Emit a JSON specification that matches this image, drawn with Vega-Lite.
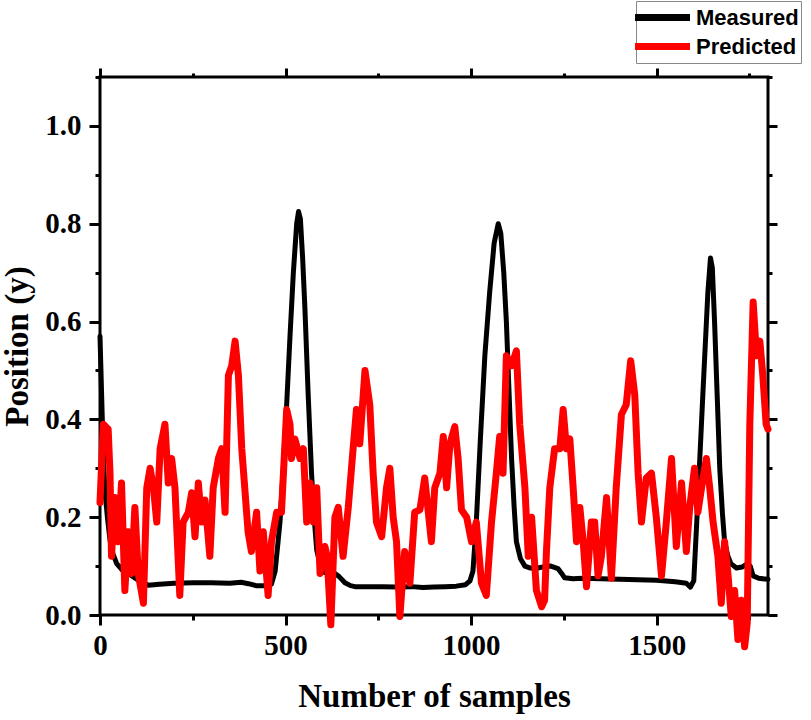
{
  "$schema": "https://vega.github.io/schema/vega-lite/v6.json",
  "description": "Measured vs predicted position over samples",
  "width": 668,
  "height": 538,
  "autosize": "none",
  "padding": {"left": 100, "top": 77, "right": 43, "bottom": 105},
  "background": "white",
  "config": {
    "view": {"stroke": "black", "strokeWidth": 3},
    "axis": {
      "domain": false,
      "grid": false,
      "tickColor": "black",
      "tickWidth": 3,
      "labelFont": "Liberation Serif",
      "labelFontWeight": "bold",
      "labelFontSize": 29,
      "labelColor": "black",
      "labelFlush": false,
      "labelOverlap": false,
      "titleFont": "Liberation Serif",
      "titleFontWeight": "bold",
      "titleFontSize": 33,
      "titleColor": "black"
    },
    "legend": {
      "orient": "none",
      "legendX": 536,
      "legendY": -76,
      "title": null,
      "symbolType": "M-2.5,0L2.5,0",
      "symbolSize": 484,
      "symbolStrokeWidth": 7,
      "symbolOffset": 10,
      "labelFont": "Liberation Sans",
      "labelFontWeight": "bold",
      "labelFontSize": 22,
      "labelColor": "black",
      "labelOffset": 19,
      "padding": 2,
      "rowPadding": 0,
      "strokeColor": "#888888",
      "fillColor": "white"
    }
  },
  "data": {
    "values": [
      {"sample": 0, "position": 0.57, "series": "Measured"},
      {"sample": 4, "position": 0.46, "series": "Measured"},
      {"sample": 8, "position": 0.35, "series": "Measured"},
      {"sample": 13, "position": 0.255, "series": "Measured"},
      {"sample": 20, "position": 0.2, "series": "Measured"},
      {"sample": 27, "position": 0.153, "series": "Measured"},
      {"sample": 35, "position": 0.125, "series": "Measured"},
      {"sample": 45, "position": 0.105, "series": "Measured"},
      {"sample": 60, "position": 0.092, "series": "Measured"},
      {"sample": 76, "position": 0.085, "series": "Measured"},
      {"sample": 90, "position": 0.078, "series": "Measured"},
      {"sample": 105, "position": 0.07, "series": "Measured"},
      {"sample": 120, "position": 0.064, "series": "Measured"},
      {"sample": 130, "position": 0.061, "series": "Measured"},
      {"sample": 160, "position": 0.063, "series": "Measured"},
      {"sample": 200, "position": 0.065, "series": "Measured"},
      {"sample": 250, "position": 0.066, "series": "Measured"},
      {"sample": 300, "position": 0.066, "series": "Measured"},
      {"sample": 350, "position": 0.065, "series": "Measured"},
      {"sample": 380, "position": 0.067, "series": "Measured"},
      {"sample": 400, "position": 0.064, "series": "Measured"},
      {"sample": 420, "position": 0.06, "series": "Measured"},
      {"sample": 445, "position": 0.06, "series": "Measured"},
      {"sample": 462, "position": 0.063, "series": "Measured"},
      {"sample": 472, "position": 0.09, "series": "Measured"},
      {"sample": 485, "position": 0.19, "series": "Measured"},
      {"sample": 494, "position": 0.3, "series": "Measured"},
      {"sample": 503, "position": 0.43, "series": "Measured"},
      {"sample": 512, "position": 0.57, "series": "Measured"},
      {"sample": 521, "position": 0.7, "series": "Measured"},
      {"sample": 530, "position": 0.8, "series": "Measured"},
      {"sample": 535, "position": 0.825, "series": "Measured"},
      {"sample": 540, "position": 0.81, "series": "Measured"},
      {"sample": 546, "position": 0.73, "series": "Measured"},
      {"sample": 552, "position": 0.63, "series": "Measured"},
      {"sample": 561, "position": 0.45, "series": "Measured"},
      {"sample": 570, "position": 0.29, "series": "Measured"},
      {"sample": 577, "position": 0.2, "series": "Measured"},
      {"sample": 584, "position": 0.133, "series": "Measured"},
      {"sample": 594, "position": 0.1, "series": "Measured"},
      {"sample": 606, "position": 0.087, "series": "Measured"},
      {"sample": 620, "position": 0.085, "series": "Measured"},
      {"sample": 633, "position": 0.085, "series": "Measured"},
      {"sample": 645, "position": 0.078, "series": "Measured"},
      {"sample": 660, "position": 0.066, "series": "Measured"},
      {"sample": 675, "position": 0.06, "series": "Measured"},
      {"sample": 687, "position": 0.058, "series": "Measured"},
      {"sample": 720, "position": 0.058, "series": "Measured"},
      {"sample": 760, "position": 0.058, "series": "Measured"},
      {"sample": 800, "position": 0.057, "series": "Measured"},
      {"sample": 840, "position": 0.058, "series": "Measured"},
      {"sample": 870, "position": 0.056, "series": "Measured"},
      {"sample": 900, "position": 0.057, "series": "Measured"},
      {"sample": 930, "position": 0.058, "series": "Measured"},
      {"sample": 960, "position": 0.059, "series": "Measured"},
      {"sample": 985, "position": 0.062, "series": "Measured"},
      {"sample": 997, "position": 0.07, "series": "Measured"},
      {"sample": 1005, "position": 0.09, "series": "Measured"},
      {"sample": 1014, "position": 0.19, "series": "Measured"},
      {"sample": 1025, "position": 0.36, "series": "Measured"},
      {"sample": 1037, "position": 0.53, "series": "Measured"},
      {"sample": 1050, "position": 0.66, "series": "Measured"},
      {"sample": 1062, "position": 0.76, "series": "Measured"},
      {"sample": 1073, "position": 0.8, "series": "Measured"},
      {"sample": 1080, "position": 0.78, "series": "Measured"},
      {"sample": 1088, "position": 0.7, "series": "Measured"},
      {"sample": 1095, "position": 0.6, "series": "Measured"},
      {"sample": 1102, "position": 0.46, "series": "Measured"},
      {"sample": 1109, "position": 0.32, "series": "Measured"},
      {"sample": 1116, "position": 0.22, "series": "Measured"},
      {"sample": 1122, "position": 0.15, "series": "Measured"},
      {"sample": 1133, "position": 0.115, "series": "Measured"},
      {"sample": 1145, "position": 0.1, "series": "Measured"},
      {"sample": 1160, "position": 0.096, "series": "Measured"},
      {"sample": 1180, "position": 0.096, "series": "Measured"},
      {"sample": 1198, "position": 0.099, "series": "Measured"},
      {"sample": 1215, "position": 0.1, "series": "Measured"},
      {"sample": 1234, "position": 0.095, "series": "Measured"},
      {"sample": 1244, "position": 0.085, "series": "Measured"},
      {"sample": 1252, "position": 0.076, "series": "Measured"},
      {"sample": 1275, "position": 0.074, "series": "Measured"},
      {"sample": 1300, "position": 0.075, "series": "Measured"},
      {"sample": 1350, "position": 0.074, "series": "Measured"},
      {"sample": 1400, "position": 0.073, "series": "Measured"},
      {"sample": 1450, "position": 0.072, "series": "Measured"},
      {"sample": 1500, "position": 0.071, "series": "Measured"},
      {"sample": 1550, "position": 0.068, "series": "Measured"},
      {"sample": 1580, "position": 0.065, "series": "Measured"},
      {"sample": 1591, "position": 0.057, "series": "Measured"},
      {"sample": 1600, "position": 0.07, "series": "Measured"},
      {"sample": 1608, "position": 0.19, "series": "Measured"},
      {"sample": 1615, "position": 0.3, "series": "Measured"},
      {"sample": 1625, "position": 0.46, "series": "Measured"},
      {"sample": 1638, "position": 0.66, "series": "Measured"},
      {"sample": 1645, "position": 0.73, "series": "Measured"},
      {"sample": 1650, "position": 0.71, "series": "Measured"},
      {"sample": 1656, "position": 0.6, "series": "Measured"},
      {"sample": 1663, "position": 0.45, "series": "Measured"},
      {"sample": 1670, "position": 0.3, "series": "Measured"},
      {"sample": 1677, "position": 0.21, "series": "Measured"},
      {"sample": 1683, "position": 0.15, "series": "Measured"},
      {"sample": 1692, "position": 0.12, "series": "Measured"},
      {"sample": 1700, "position": 0.105, "series": "Measured"},
      {"sample": 1715, "position": 0.096, "series": "Measured"},
      {"sample": 1730, "position": 0.098, "series": "Measured"},
      {"sample": 1745, "position": 0.105, "series": "Measured"},
      {"sample": 1752, "position": 0.1, "series": "Measured"},
      {"sample": 1760, "position": 0.08, "series": "Measured"},
      {"sample": 1775, "position": 0.075, "series": "Measured"},
      {"sample": 1800, "position": 0.073, "series": "Measured"},

      {"sample": 0, "position": 0.23, "series": "Predicted"},
      {"sample": 9, "position": 0.39, "series": "Predicted"},
      {"sample": 22, "position": 0.38, "series": "Predicted"},
      {"sample": 27, "position": 0.29, "series": "Predicted"},
      {"sample": 31, "position": 0.12, "series": "Predicted"},
      {"sample": 40, "position": 0.24, "series": "Predicted"},
      {"sample": 49, "position": 0.15, "series": "Predicted"},
      {"sample": 58, "position": 0.27, "series": "Predicted"},
      {"sample": 67, "position": 0.05, "series": "Predicted"},
      {"sample": 76, "position": 0.17, "series": "Predicted"},
      {"sample": 85, "position": 0.085, "series": "Predicted"},
      {"sample": 94, "position": 0.22, "series": "Predicted"},
      {"sample": 103, "position": 0.085, "series": "Predicted"},
      {"sample": 117, "position": 0.024, "series": "Predicted"},
      {"sample": 126, "position": 0.26, "series": "Predicted"},
      {"sample": 135, "position": 0.3, "series": "Predicted"},
      {"sample": 144, "position": 0.26, "series": "Predicted"},
      {"sample": 153, "position": 0.19, "series": "Predicted"},
      {"sample": 162, "position": 0.34, "series": "Predicted"},
      {"sample": 175, "position": 0.39, "series": "Predicted"},
      {"sample": 184, "position": 0.27, "series": "Predicted"},
      {"sample": 193, "position": 0.32, "series": "Predicted"},
      {"sample": 202, "position": 0.26, "series": "Predicted"},
      {"sample": 215, "position": 0.04, "series": "Predicted"},
      {"sample": 224, "position": 0.19, "series": "Predicted"},
      {"sample": 238, "position": 0.21, "series": "Predicted"},
      {"sample": 247, "position": 0.25, "series": "Predicted"},
      {"sample": 256, "position": 0.16, "series": "Predicted"},
      {"sample": 265, "position": 0.27, "series": "Predicted"},
      {"sample": 274, "position": 0.19, "series": "Predicted"},
      {"sample": 283, "position": 0.235, "series": "Predicted"},
      {"sample": 296, "position": 0.12, "series": "Predicted"},
      {"sample": 305, "position": 0.26, "series": "Predicted"},
      {"sample": 319, "position": 0.32, "series": "Predicted"},
      {"sample": 328, "position": 0.34, "series": "Predicted"},
      {"sample": 337, "position": 0.21, "series": "Predicted"},
      {"sample": 346, "position": 0.49, "series": "Predicted"},
      {"sample": 355, "position": 0.51, "series": "Predicted"},
      {"sample": 364, "position": 0.56, "series": "Predicted"},
      {"sample": 373, "position": 0.49, "series": "Predicted"},
      {"sample": 382, "position": 0.34, "series": "Predicted"},
      {"sample": 390, "position": 0.26, "series": "Predicted"},
      {"sample": 399, "position": 0.17, "series": "Predicted"},
      {"sample": 408, "position": 0.13, "series": "Predicted"},
      {"sample": 422, "position": 0.21, "series": "Predicted"},
      {"sample": 431, "position": 0.09, "series": "Predicted"},
      {"sample": 440, "position": 0.17, "series": "Predicted"},
      {"sample": 453, "position": 0.04, "series": "Predicted"},
      {"sample": 462, "position": 0.15, "series": "Predicted"},
      {"sample": 476, "position": 0.21, "series": "Predicted"},
      {"sample": 489, "position": 0.21, "series": "Predicted"},
      {"sample": 503, "position": 0.42, "series": "Predicted"},
      {"sample": 512, "position": 0.39, "series": "Predicted"},
      {"sample": 516, "position": 0.32, "series": "Predicted"},
      {"sample": 525, "position": 0.36, "series": "Predicted"},
      {"sample": 539, "position": 0.32, "series": "Predicted"},
      {"sample": 548, "position": 0.34, "series": "Predicted"},
      {"sample": 557, "position": 0.19, "series": "Predicted"},
      {"sample": 566, "position": 0.27, "series": "Predicted"},
      {"sample": 575, "position": 0.19, "series": "Predicted"},
      {"sample": 584, "position": 0.26, "series": "Predicted"},
      {"sample": 593, "position": 0.085, "series": "Predicted"},
      {"sample": 606, "position": 0.14, "series": "Predicted"},
      {"sample": 612, "position": 0.12, "series": "Predicted"},
      {"sample": 622, "position": -0.02, "series": "Predicted"},
      {"sample": 633, "position": 0.2, "series": "Predicted"},
      {"sample": 642, "position": 0.22, "series": "Predicted"},
      {"sample": 655, "position": 0.12, "series": "Predicted"},
      {"sample": 669, "position": 0.22, "series": "Predicted"},
      {"sample": 682, "position": 0.34, "series": "Predicted"},
      {"sample": 691, "position": 0.42, "series": "Predicted"},
      {"sample": 700, "position": 0.35, "series": "Predicted"},
      {"sample": 714, "position": 0.5, "series": "Predicted"},
      {"sample": 727, "position": 0.43, "series": "Predicted"},
      {"sample": 736, "position": 0.29, "series": "Predicted"},
      {"sample": 745, "position": 0.19, "series": "Predicted"},
      {"sample": 759, "position": 0.16, "series": "Predicted"},
      {"sample": 772, "position": 0.26, "series": "Predicted"},
      {"sample": 781, "position": 0.3, "series": "Predicted"},
      {"sample": 790, "position": 0.2, "series": "Predicted"},
      {"sample": 799, "position": 0.15, "series": "Predicted"},
      {"sample": 808, "position": -0.003, "series": "Predicted"},
      {"sample": 821, "position": 0.13, "series": "Predicted"},
      {"sample": 835, "position": 0.065, "series": "Predicted"},
      {"sample": 848, "position": 0.21, "series": "Predicted"},
      {"sample": 862, "position": 0.215, "series": "Predicted"},
      {"sample": 875, "position": 0.28, "series": "Predicted"},
      {"sample": 884, "position": 0.215, "series": "Predicted"},
      {"sample": 893, "position": 0.15, "series": "Predicted"},
      {"sample": 902, "position": 0.26, "series": "Predicted"},
      {"sample": 916, "position": 0.29, "series": "Predicted"},
      {"sample": 925, "position": 0.365, "series": "Predicted"},
      {"sample": 934, "position": 0.26, "series": "Predicted"},
      {"sample": 943, "position": 0.35, "series": "Predicted"},
      {"sample": 956, "position": 0.385, "series": "Predicted"},
      {"sample": 965, "position": 0.32, "series": "Predicted"},
      {"sample": 974, "position": 0.215, "series": "Predicted"},
      {"sample": 988, "position": 0.2, "series": "Predicted"},
      {"sample": 1001, "position": 0.15, "series": "Predicted"},
      {"sample": 1014, "position": 0.19, "series": "Predicted"},
      {"sample": 1028, "position": 0.065, "series": "Predicted"},
      {"sample": 1041, "position": 0.04, "series": "Predicted"},
      {"sample": 1055, "position": 0.19, "series": "Predicted"},
      {"sample": 1068, "position": 0.29, "series": "Predicted"},
      {"sample": 1077, "position": 0.365, "series": "Predicted"},
      {"sample": 1086, "position": 0.29, "series": "Predicted"},
      {"sample": 1095, "position": 0.53, "series": "Predicted"},
      {"sample": 1109, "position": 0.51, "series": "Predicted"},
      {"sample": 1122, "position": 0.54, "series": "Predicted"},
      {"sample": 1131, "position": 0.39, "series": "Predicted"},
      {"sample": 1145, "position": 0.26, "series": "Predicted"},
      {"sample": 1154, "position": 0.12, "series": "Predicted"},
      {"sample": 1163, "position": 0.2, "series": "Predicted"},
      {"sample": 1176, "position": 0.05, "series": "Predicted"},
      {"sample": 1190, "position": 0.017, "series": "Predicted"},
      {"sample": 1198, "position": 0.03, "series": "Predicted"},
      {"sample": 1203, "position": 0.13, "series": "Predicted"},
      {"sample": 1212, "position": 0.26, "series": "Predicted"},
      {"sample": 1225, "position": 0.34, "series": "Predicted"},
      {"sample": 1239, "position": 0.34, "series": "Predicted"},
      {"sample": 1248, "position": 0.42, "series": "Predicted"},
      {"sample": 1257, "position": 0.34, "series": "Predicted"},
      {"sample": 1266, "position": 0.36, "series": "Predicted"},
      {"sample": 1275, "position": 0.26, "series": "Predicted"},
      {"sample": 1284, "position": 0.15, "series": "Predicted"},
      {"sample": 1293, "position": 0.22, "series": "Predicted"},
      {"sample": 1302, "position": 0.15, "series": "Predicted"},
      {"sample": 1311, "position": 0.058, "series": "Predicted"},
      {"sample": 1324, "position": 0.19, "series": "Predicted"},
      {"sample": 1333, "position": 0.19, "series": "Predicted"},
      {"sample": 1342, "position": 0.08, "series": "Predicted"},
      {"sample": 1351, "position": 0.12, "series": "Predicted"},
      {"sample": 1365, "position": 0.24, "series": "Predicted"},
      {"sample": 1378, "position": 0.075, "series": "Predicted"},
      {"sample": 1391, "position": 0.26, "series": "Predicted"},
      {"sample": 1405, "position": 0.41, "series": "Predicted"},
      {"sample": 1418, "position": 0.43, "series": "Predicted"},
      {"sample": 1430, "position": 0.52, "series": "Predicted"},
      {"sample": 1441, "position": 0.45, "series": "Predicted"},
      {"sample": 1450, "position": 0.29, "series": "Predicted"},
      {"sample": 1459, "position": 0.19, "series": "Predicted"},
      {"sample": 1472, "position": 0.28, "series": "Predicted"},
      {"sample": 1486, "position": 0.29, "series": "Predicted"},
      {"sample": 1499, "position": 0.2, "series": "Predicted"},
      {"sample": 1513, "position": 0.08, "series": "Predicted"},
      {"sample": 1526, "position": 0.19, "series": "Predicted"},
      {"sample": 1540, "position": 0.32, "series": "Predicted"},
      {"sample": 1553, "position": 0.14, "series": "Predicted"},
      {"sample": 1567, "position": 0.27, "series": "Predicted"},
      {"sample": 1580, "position": 0.13, "series": "Predicted"},
      {"sample": 1589, "position": 0.22, "series": "Predicted"},
      {"sample": 1602, "position": 0.3, "series": "Predicted"},
      {"sample": 1611, "position": 0.21, "series": "Predicted"},
      {"sample": 1625, "position": 0.28, "series": "Predicted"},
      {"sample": 1634, "position": 0.32, "series": "Predicted"},
      {"sample": 1643, "position": 0.26, "series": "Predicted"},
      {"sample": 1652, "position": 0.19, "series": "Predicted"},
      {"sample": 1665, "position": 0.12, "series": "Predicted"},
      {"sample": 1674, "position": 0.024, "series": "Predicted"},
      {"sample": 1683, "position": 0.15, "series": "Predicted"},
      {"sample": 1692, "position": 0.085, "series": "Predicted"},
      {"sample": 1701, "position": -0.003, "series": "Predicted"},
      {"sample": 1710, "position": 0.05, "series": "Predicted"},
      {"sample": 1719, "position": -0.05, "series": "Predicted"},
      {"sample": 1728, "position": 0.03, "series": "Predicted"},
      {"sample": 1737, "position": -0.065, "series": "Predicted"},
      {"sample": 1744, "position": -0.017, "series": "Predicted"},
      {"sample": 1751, "position": 0.39, "series": "Predicted"},
      {"sample": 1760, "position": 0.64, "series": "Predicted"},
      {"sample": 1769, "position": 0.53, "series": "Predicted"},
      {"sample": 1778, "position": 0.56, "series": "Predicted"},
      {"sample": 1786, "position": 0.49, "series": "Predicted"},
      {"sample": 1795, "position": 0.39, "series": "Predicted"},
      {"sample": 1800, "position": 0.38, "series": "Predicted"}
    ]
  },
  "layer": [
    {
      "transform": [{"filter": "datum.series === 'Measured'"}],
      "mark": {"type": "line", "strokeWidth": 5, "strokeJoin": "round", "strokeCap": "round"},
      "encoding": {
        "x": {
          "field": "sample",
          "type": "quantitative",
          "scale": {"domain": [0, 1800], "nice": false, "zero": false},
          "axis": {
            "orient": "bottom",
            "title": "Number of samples",
            "values": [0, 250, 500, 750, 1000, 1250, 1500, 1750],
            "format": "d",
            "labelExpr": "datum.value % 500 === 0 ? datum.label : ''",
            "tickSize": {"condition": {"test": "datum.value % 500 === 0", "value": 10}, "value": 5},
            "labelPadding": 6,
            "titlePadding": 20
          }
        },
        "y": {
          "field": "position",
          "type": "quantitative",
          "scale": {"domain": [0, 1.1], "nice": false, "zero": false},
          "axis": {
            "orient": "left",
            "title": "Position (y)",
            "values": [0, 0.1, 0.2, 0.3, 0.4, 0.5, 0.6, 0.7, 0.8, 0.9, 1.0, 1.1],
            "labelExpr": "round(datum.value * 10) % 2 === 0 ? format(datum.value, '.1f') : ''",
            "tickSize": {"condition": {"test": "round(datum.value * 10) % 2 === 0", "value": 11}, "value": 5},
            "labelPadding": 8,
            "titlePadding": 10
          }
        },
        "color": {
          "field": "series",
          "type": "nominal",
          "scale": {"domain": ["Measured", "Predicted"], "range": ["#000000", "#ff0000"]}
        }
      }
    },
    {
      "transform": [{"filter": "datum.series === 'Predicted'"}],
      "mark": {"type": "line", "strokeWidth": 7, "strokeJoin": "round", "strokeCap": "round"},
      "encoding": {
        "x": {
          "field": "sample",
          "type": "quantitative",
          "scale": {"domain": [0, 1800], "nice": false, "zero": false},
          "axis": {
            "orient": "top",
            "title": null,
            "labels": false,
            "values": [0, 250, 500, 750, 1000, 1250, 1500, 1750],
            "tickSize": {"condition": {"test": "datum.value % 500 === 0", "value": 9}, "value": 4}
          }
        },
        "y": {
          "field": "position",
          "type": "quantitative",
          "scale": {"domain": [0, 1.1], "nice": false, "zero": false},
          "axis": {
            "orient": "right",
            "title": null,
            "labels": false,
            "values": [0, 0.1, 0.2, 0.3, 0.4, 0.5, 0.6, 0.7, 0.8, 0.9, 1.0, 1.1],
            "tickSize": {"condition": {"test": "round(datum.value * 10) % 2 === 0", "value": 9}, "value": 4}
          }
        },
        "color": {
          "field": "series",
          "type": "nominal",
          "scale": {"domain": ["Measured", "Predicted"], "range": ["#000000", "#ff0000"]}
        }
      }
    }
  ],
  "resolve": {"axis": {"x": "independent", "y": "independent"}}
}
